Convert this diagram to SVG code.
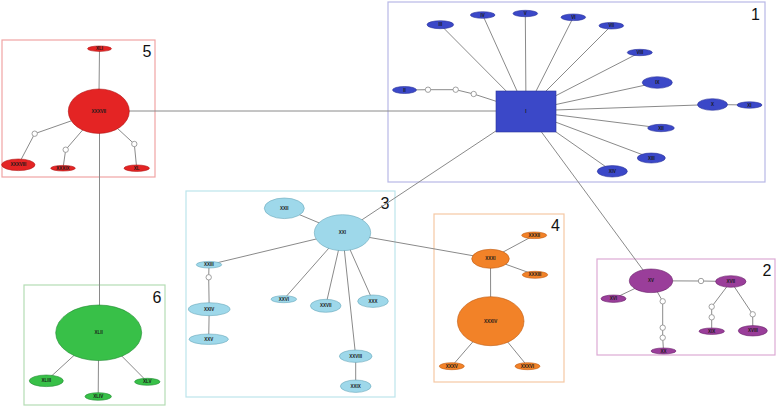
<svg xmlns="http://www.w3.org/2000/svg" width="778" height="408" viewBox="0 0 778 408">
<style>
.bg{fill:#ffffff}
.box{fill:none;stroke-width:1.2}
.num{font-family:"Liberation Sans",Arial,sans-serif;font-size:16px;fill:#111;text-anchor:middle}
.lbl{font-family:"Liberation Sans",Arial,sans-serif;font-size:4.5px;font-weight:bold;fill:#1a1a1a;text-anchor:middle;dominant-baseline:central}
.e{stroke:#8a8a8a;stroke-width:1;fill:none}
.h{fill:#ffffff;stroke:#8a8a8a;stroke-width:0.8}
.c1{fill:#3b48c8;stroke:#2a329a;stroke-width:0.6}
.c2{fill:#9a3e9a;stroke:#6a226a;stroke-width:0.6}
.c3{fill:#9ed8ea;stroke:#6aa8ba;stroke-width:0.6}
.c4{fill:#f28228;stroke:#c05a10;stroke-width:0.6}
.c5{fill:#e42424;stroke:#b01212;stroke-width:0.6}
.c6{fill:#38c048;stroke:#208a30;stroke-width:0.6}
</style>
<rect class="bg" x="0" y="0" width="778" height="408"/>
<g id="boxes">
<rect class="box" x="388" y="2" width="377" height="180" stroke="#b8b8e6"/>
<rect class="box" x="2" y="40" width="153" height="137" stroke="#f0a4a4"/>
<rect class="box" x="24" y="285" width="141" height="120" stroke="#b4dcb4"/>
<rect class="box" x="186" y="191" width="209" height="206" stroke="#bce4ec"/>
<rect class="box" x="434" y="214" width="130" height="168" stroke="#f6c8a4"/>
<rect class="box" x="597" y="259" width="178" height="96" stroke="#dcaad4"/>
<text class="num" x="755.5" y="20">1</text>
<text class="num" x="767" y="275.5">2</text>
<text class="num" x="385" y="209">3</text>
<text class="num" x="555.5" y="230.5">4</text>
<text class="num" x="147" y="56.5">5</text>
<text class="num" x="157" y="302.5">6</text>
</g>
<g id="connectors">
<line class="e" x1="526" y1="111" x2="440.3" y2="24.7"/>
<line class="e" x1="526" y1="111" x2="482.7" y2="15"/>
<line class="e" x1="526" y1="111" x2="525.3" y2="13.5"/>
<line class="e" x1="526" y1="111" x2="573.3" y2="17.3"/>
<line class="e" x1="526" y1="111" x2="611.3" y2="25.7"/>
<line class="e" x1="526" y1="111" x2="639.8" y2="52.5"/>
<line class="e" x1="526" y1="111" x2="657.3" y2="82.5"/>
<line class="e" x1="526" y1="111" x2="712.5" y2="104.5"/>
<line class="e" x1="712.5" y1="104.5" x2="749.5" y2="105"/>
<line class="e" x1="526" y1="111" x2="661" y2="128"/>
<line class="e" x1="526" y1="111" x2="651.3" y2="158"/>
<line class="e" x1="526" y1="111" x2="612.3" y2="171.3"/>
<polyline class="e" points="404.5,90 428,89.7 455.7,89.7 473.7,94 526,111"/>
<line class="e" x1="98.8" y1="111" x2="526" y2="111"/>
<line class="e" x1="526" y1="111" x2="342.5" y2="232.7"/>
<line class="e" x1="526" y1="111" x2="651" y2="280.8"/>
<line class="e" x1="99.5" y1="48.7" x2="98.8" y2="111.2"/>
<polyline class="e" points="98.8,111.2 34.7,133.7 18.3,164.8"/>
<polyline class="e" points="98.8,111.2 65.7,149.7 63,168.2"/>
<polyline class="e" points="98.8,111.2 134.3,144 136.7,168.2"/>
<line class="e" x1="99.5" y1="111.2" x2="99.5" y2="332.8"/>
<line class="e" x1="98.7" y1="332.8" x2="46.3" y2="380.8"/>
<line class="e" x1="98.7" y1="332.8" x2="98.2" y2="396.5"/>
<line class="e" x1="98.7" y1="332.8" x2="147.3" y2="381.8"/>
<line class="e" x1="342.5" y1="232.7" x2="284.3" y2="208.3"/>
<line class="e" x1="342.5" y1="232.7" x2="209" y2="264.7"/>
<line class="e" x1="342.5" y1="232.7" x2="283.8" y2="299.2"/>
<line class="e" x1="342.5" y1="232.7" x2="325.7" y2="305.8"/>
<line class="e" x1="342.5" y1="232.7" x2="355.7" y2="356.2"/>
<line class="e" x1="342.5" y1="232.7" x2="373" y2="301.2"/>
<line class="e" x1="342.5" y1="232.7" x2="490.5" y2="258.8"/>
<polyline class="e" points="209,264.7 208.7,277.3 209.2,309.2 208.7,339.2"/>
<line class="e" x1="355.7" y1="356.2" x2="355.7" y2="386.2"/>
<line class="e" x1="490.5" y1="258.8" x2="534.2" y2="235.3"/>
<line class="e" x1="490.5" y1="258.8" x2="535" y2="274.8"/>
<line class="e" x1="490.5" y1="258.8" x2="490.7" y2="321.2"/>
<line class="e" x1="490.7" y1="321.2" x2="451.8" y2="366.2"/>
<line class="e" x1="490.7" y1="321.2" x2="527.5" y2="366.2"/>
<line class="e" x1="651" y1="280.8" x2="613.5" y2="298.7"/>
<polyline class="e" points="651,280.8 701,281 730.8,281.5"/>
<polyline class="e" points="651,280.8 662.7,301.3 662.7,327.7 662.7,337.7 663.5,351"/>
<polyline class="e" points="730.8,281.5 711.7,306.7 711.7,317.3 711.7,331.2"/>
<polyline class="e" points="730.8,281.5 752.7,314.3 752.8,330.8"/>
</g>
<g id="hidden-nodes">
<circle class="h" cx="428" cy="89.7" r="2.7"/>
<circle class="h" cx="455.7" cy="89.7" r="2.7"/>
<circle class="h" cx="473.7" cy="94" r="2.7"/>
<circle class="h" cx="34.7" cy="133.7" r="2.7"/>
<circle class="h" cx="65.7" cy="149.7" r="2.7"/>
<circle class="h" cx="134.3" cy="144" r="2.7"/>
<circle class="h" cx="208.7" cy="277.3" r="2.7"/>
<circle class="h" cx="701" cy="281" r="2.7"/>
<circle class="h" cx="662.7" cy="301.3" r="2.7"/>
<circle class="h" cx="662.7" cy="327.7" r="2.7"/>
<circle class="h" cx="662.7" cy="337.7" r="2.7"/>
<circle class="h" cx="711.7" cy="306.7" r="2.7"/>
<circle class="h" cx="711.7" cy="317.3" r="2.7"/>
<circle class="h" cx="752.7" cy="314.3" r="2.7"/>
</g>
<g id="n-I"><rect class="c1" x="496" y="91" width="60" height="41"/><text class="lbl" x="526" y="111.5">I</text></g>
<g id="n-II"><ellipse class="c1" cx="404.5" cy="90" rx="12" ry="3.5"/><text class="lbl" x="404.5" y="90">II</text></g>
<g id="n-III"><ellipse class="c1" cx="440.3" cy="24.7" rx="13.3" ry="4"/><text class="lbl" x="440.3" y="24.7">III</text></g>
<g id="n-IV"><ellipse class="c1" cx="482.7" cy="15" rx="12.3" ry="3.3"/><text class="lbl" x="482.7" y="15">IV</text></g>
<g id="n-V"><ellipse class="c1" cx="525.3" cy="13.5" rx="12.3" ry="3.2"/><text class="lbl" x="525.3" y="13.5">V</text></g>
<g id="n-VI"><ellipse class="c1" cx="573.3" cy="17.3" rx="12.3" ry="3.3"/><text class="lbl" x="573.3" y="17.3">VI</text></g>
<g id="n-VII"><ellipse class="c1" cx="611.3" cy="25.7" rx="12.3" ry="3.3"/><text class="lbl" x="611.3" y="25.7">VII</text></g>
<g id="n-VIII"><ellipse class="c1" cx="639.8" cy="52.5" rx="12.5" ry="3.2"/><text class="lbl" x="639.8" y="52.5">VIII</text></g>
<g id="n-IX"><ellipse class="c1" cx="657.3" cy="82.5" rx="15" ry="5.8"/><text class="lbl" x="657.3" y="82.5">IX</text></g>
<g id="n-X"><ellipse class="c1" cx="712.5" cy="104.5" rx="15" ry="5.8"/><text class="lbl" x="712.5" y="104.5">X</text></g>
<g id="n-XI"><ellipse class="c1" cx="749.5" cy="105" rx="12.5" ry="3.2"/><text class="lbl" x="749.5" y="105">XI</text></g>
<g id="n-XII"><ellipse class="c1" cx="661" cy="128" rx="13.3" ry="3.7"/><text class="lbl" x="661" y="128">XII</text></g>
<g id="n-XIII"><ellipse class="c1" cx="651.3" cy="158" rx="14" ry="5"/><text class="lbl" x="651.3" y="158">XIII</text></g>
<g id="n-XIV"><ellipse class="c1" cx="612.3" cy="171.3" rx="15" ry="5.7"/><text class="lbl" x="612.3" y="171.3">XIV</text></g>
<g id="n-XV"><ellipse class="c2" cx="651" cy="280.8" rx="21.7" ry="11.8"/><text class="lbl" x="651" y="280.8">XV</text></g>
<g id="n-XVI"><ellipse class="c2" cx="613.5" cy="298.7" rx="12.5" ry="3.7"/><text class="lbl" x="613.5" y="298.7">XVI</text></g>
<g id="n-XVII"><ellipse class="c2" cx="730.8" cy="281.5" rx="15.2" ry="5.8"/><text class="lbl" x="730.8" y="281.5">XVII</text></g>
<g id="n-XVIII"><ellipse class="c2" cx="752.8" cy="330.8" rx="14.5" ry="5.2"/><text class="lbl" x="752.8" y="330.8">XVIII</text></g>
<g id="n-XIX"><ellipse class="c2" cx="711.7" cy="331.2" rx="12.7" ry="3.2"/><text class="lbl" x="711.7" y="331.2">XIX</text></g>
<g id="n-XX"><ellipse class="c2" cx="663.5" cy="351" rx="12.5" ry="3"/><text class="lbl" x="663.5" y="351">XX</text></g>
<g id="n-XXI"><ellipse class="c3" cx="342.5" cy="232.7" rx="28.2" ry="18"/><text class="lbl" x="342.5" y="232.7">XXI</text></g>
<g id="n-XXII"><ellipse class="c3" cx="284.3" cy="208.3" rx="20" ry="10.3"/><text class="lbl" x="284.3" y="208.3">XXII</text></g>
<g id="n-XXIII"><ellipse class="c3" cx="209" cy="264.7" rx="12.7" ry="3.3"/><text class="lbl" x="209" y="264.7">XXIII</text></g>
<g id="n-XXIV"><ellipse class="c3" cx="209.2" cy="309.2" rx="20.8" ry="6.5"/><text class="lbl" x="209.2" y="309.2">XXIV</text></g>
<g id="n-XXV"><ellipse class="c3" cx="208.7" cy="339.2" rx="19.7" ry="5.2"/><text class="lbl" x="208.7" y="339.2">XXV</text></g>
<g id="n-XXVI"><ellipse class="c3" cx="283.8" cy="299.2" rx="12.8" ry="3.5"/><text class="lbl" x="283.8" y="299.2">XXVI</text></g>
<g id="n-XXVII"><ellipse class="c3" cx="325.7" cy="305.8" rx="15.3" ry="6.5"/><text class="lbl" x="325.7" y="305.8">XXVII</text></g>
<g id="n-XXVIII"><ellipse class="c3" cx="355.7" cy="356.2" rx="16.3" ry="6.2"/><text class="lbl" x="355.7" y="356.2">XXVIII</text></g>
<g id="n-XXIX"><ellipse class="c3" cx="355.7" cy="386.2" rx="15.3" ry="6.2"/><text class="lbl" x="355.7" y="386.2">XXIX</text></g>
<g id="n-XXX"><ellipse class="c3" cx="373" cy="301.2" rx="15.3" ry="6.2"/><text class="lbl" x="373" y="301.2">XXX</text></g>
<g id="n-XXXI"><ellipse class="c4" cx="490.5" cy="258.8" rx="18.8" ry="9.5"/><text class="lbl" x="490.5" y="258.8">XXXI</text></g>
<g id="n-XXXII"><ellipse class="c4" cx="534.2" cy="235.3" rx="12.5" ry="3.3"/><text class="lbl" x="534.2" y="235.3">XXXII</text></g>
<g id="n-XXXIII"><ellipse class="c4" cx="535" cy="274.8" rx="12.7" ry="3.5"/><text class="lbl" x="535" y="274.8">XXXIII</text></g>
<g id="n-XXXIV"><ellipse class="c4" cx="490.7" cy="321.2" rx="33.3" ry="24.5"/><text class="lbl" x="490.7" y="321.2">XXXIV</text></g>
<g id="n-XXXV"><ellipse class="c4" cx="451.8" cy="366.2" rx="12.5" ry="3.5"/><text class="lbl" x="451.8" y="366.2">XXXV</text></g>
<g id="n-XXXVI"><ellipse class="c4" cx="527.5" cy="366.2" rx="12.5" ry="3.5"/><text class="lbl" x="527.5" y="366.2">XXXVI</text></g>
<g id="n-XXXVII"><ellipse class="c5" cx="98.8" cy="111.2" rx="30.5" ry="22.2"/><text class="lbl" x="98.8" y="111.2">XXXVII</text></g>
<g id="n-XXXVIII"><ellipse class="c5" cx="18.3" cy="164.8" rx="16.7" ry="5.8"/><text class="lbl" x="18.3" y="164.8">XXXVIII</text></g>
<g id="n-XXXIX"><ellipse class="c5" cx="63" cy="168.2" rx="12.3" ry="2.8"/><text class="lbl" x="63" y="168.2">XXXIX</text></g>
<g id="n-XL"><ellipse class="c5" cx="136.7" cy="168.2" rx="12.7" ry="3.2"/><text class="lbl" x="136.7" y="168.2">XL</text></g>
<g id="n-XLI"><ellipse class="c5" cx="99.5" cy="48.7" rx="12" ry="2.7"/><text class="lbl" x="99.5" y="48.7">XLI</text></g>
<g id="n-XLII"><ellipse class="c6" cx="98.7" cy="332.8" rx="43" ry="27.8"/><text class="lbl" x="98.7" y="332.8">XLII</text></g>
<g id="n-XLIII"><ellipse class="c6" cx="46.3" cy="380.8" rx="17" ry="5.8"/><text class="lbl" x="46.3" y="380.8">XLIII</text></g>
<g id="n-XLIV"><ellipse class="c6" cx="98.2" cy="396.5" rx="13.2" ry="3.8"/><text class="lbl" x="98.2" y="396.5">XLIV</text></g>
<g id="n-XLV"><ellipse class="c6" cx="147.3" cy="381.8" rx="12.7" ry="3.5"/><text class="lbl" x="147.3" y="381.8">XLV</text></g>
</svg>
